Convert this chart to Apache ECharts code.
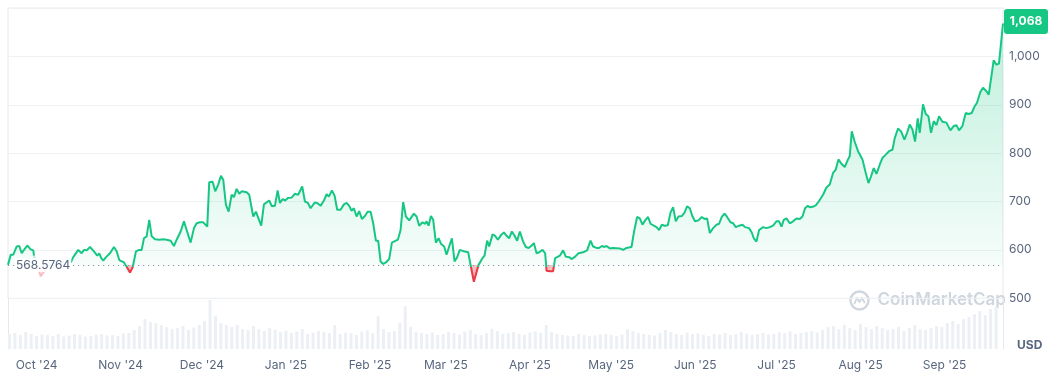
<!DOCTYPE html>
<html><head><meta charset="utf-8">
<script src="https://cdn.jsdelivr.net/npm/echarts@6/dist/echarts.min.js"></script>
<style>html,body{margin:0;padding:0;background:#fff;}#c{width:1056px;height:373px;}</style>
</head><body><div id="c"></div>
<script>
// ---- data ----
const START = Date.UTC(2024, 8, 21);   // first day shown
const DAY = 86400000;
const SPAN_DAYS = 366;
const BASELINE = 568.5764;
const LAST_PRICE = 1068;

// day offsets from START and prices (USD); null = missing data
const priceDays = [0,1.0,1.95,3.2,4.16,5.04,5.88,7.1,8.35,9.3,9.56,16,
23.06,24.01,25.85,27.1,27.95,28.94,30.15,31.62,32.84,33.57,34.31,35.04,36.04,37.51,38.98,39.97,40.93,42.66,43.65,44.86,45.86,47.07,48.28,49.17,50.01,51.0,51.96,52.84,54.06,55.64,57.11,58.36,59.83,61.04,62.04,63.51,64.72,65.71,67.18,68.4,69.39,70.6,71.82,73.29,74.02,75.27,76.23,77.33,78.33,79.17,80.16,81.16,82.26,83.11,84.1,85.06,85.94,87.78,88.73,90.2,91.2,92.19,93.15,94.14,96.09,97.08,98.18,99.18,100.02,101.02,101.97,102.96,104.32,105.54,106.75,107.38,108.22,109.22,110.32,111.31,112.89,113.74,114.99,116.2,117.2,118.04,119.14,120.14,121.09,122.34,123.56,124.55,125.51,126.39,127.23,128.23,129.18,130.18,131.28,132.27,133.38,134.33,135.33,136.17,137.05,138.01,139.0,140.22,141.21,142.31,143.41,144.41,145.36,146.36,147.57,149.3,150.29,151.25,152.5,153.46,153.97,154.71,155.55,156.4,157.39,158.38,159.34,160.44,161.32,162.28,163.27,164.26,165.22,166.21,167.68,169.27,170.15,171.36,173.09,174.56,175.29,176.25,176.99,178.24,179.19,180.19,181.4,182.39,183.39,184.34,185.34,186.33,187.29,188.28,189.49,190.48,191.48,192.43,193.43,194.42,195.38,196.63,197.58,198.1,199.31,200.52,201.26,201.99,202.99,204.2,205.19,206.4,207.4,208.61,209.86,211.55,213.02,214.28,215.23,216.48,217.44,218.43,219.42,220.16,221.37,222.59,225.05,226.26,227.51,229.35,230.2,231.41,232.4,233.4,234.35,235.46,236.34,237.55,238.55,239.5,240.5,241.6,242.7,243.7,244.65,245.64,246.64,247.85,248.84,249.8,250.79,251.78,252.74,253.99,255.2,256.2,257.15,258.15,259.36,260.61,261.57,262.56,263.55,264.51,265.76,266.72,267.71,268.92,270.17,271.13,272.6,273.59,274.33,275.32,276.28,277.75,278.99,280.21,281.42,282.67,283.63,284.51,285.36,286.35,287.56,288.78,290.03,291.24,292.23,293.19,294.18,294.92,296.02,297.13,298.23,299.81,301.06,302.27,303.49,304.48,305.47,306.57,307.79,309.0,309.63,310.37,311.47,312.69,314.3,315.52,316.51,317.46,318.45,319.45,320.66,321.65,322.87,324.08,325.33,326.18,327.39,328.5,329.75,330.71,331.7,332.69,333.65,334.63,335.37,336.58,337.58,338.57,339.53,340.52,341.52,342.47,343.72,345.19,346.66,347.88,348.87,349.82,351.07,352.29,353.28,354.49,355.6,356.44,357.69,358.65,359.9,360.75,361.74,362.57,363.57,364.52,366];
const priceValues = [569,590,590,607,608,593,600,609,601,599,588,null,
574,585,600,593,600,599,606,597,588,593,583,578,585,593,606,597,579,574,565,553,564,597,600,600,624,628,662,628,622,621,622,621,619,608,621,638,659,641,615,645,655,657,657,648,740,741,721,735,753,745,693,679,714,709,726,716,721,719,714,669,679,664,650,694,702,690,691,723,697,705,702,707,708,716,714,712,731,700,697,686,698,697,691,702,715,710,723,712,683,683,694,697,691,681,686,669,680,664,670,679,679,655,619,619,576,571,574,581,615,618,621,641,699,669,661,675,669,650,657,654,659,650,670,662,615,624,612,607,590,607,624,576,585,600,597,595,569,534,569,583,588,619,607,632,629,621,631,636,629,624,638,629,619,638,617,606,604,608,614,593,595,600,593,557,556,556,583,579,588,599,586,585,581,586,593,595,599,619,607,604,604,608,606,608,603,604,603,600,604,606,635,668,665,652,661,668,654,650,647,641,652,650,651,677,688,659,669,670,677,690,686,669,659,661,668,664,665,635,645,652,654,668,675,668,657,655,647,650,652,647,645,636,624,617,641,647,645,647,650,659,659,648,662,665,655,659,665,664,669,686,691,688,689,692,700,714,729,735,759,766,787,778,771,787,794,845,823,804,787,759,738,752,769,757,776,790,797,804,807,831,851,845,828,842,859,849,824,872,842,901,881,876,842,866,858,876,865,863,847,856,858,847,856,883,881,883,897,904,927,935,928,921,959,992,983,985,1068];

// faded segment where data is missing
const gapDays = [9.56,12.0,14.2,17.9,19.75,22.2,23.06];
const gapValues = [588,545,562,581,572,576,574];

// trading volume (millions USD), one bar every 2 days from START
const volumeValues = [150,160,140,170,150,130,145,140,130,150,
125,135,150,140,125,130,145,150,135,140,
130,155,160,190,230,300,270,260,240,220,
200,210,230,190,215,240,280,490,330,260,
240,220,240,200,190,230,200,180,210,195,
170,185,160,175,200,150,165,180,170,160,
240,150,165,160,140,175,190,160,330,200,
170,180,260,430,220,170,160,150,165,140,
150,170,160,145,175,190,150,140,160,200,
180,150,160,170,150,140,165,175,160,240,
170,150,140,135,130,150,140,130,135,145,
150,140,130,145,200,180,160,150,140,135,
160,190,170,150,140,165,150,155,140,130,
150,145,160,140,150,170,155,140,150,160,
145,150,170,160,175,150,160,170,180,165,
190,220,230,200,240,210,190,250,220,200,
230,210,190,200,220,180,210,240,200,190,
210,230,220,260,280,250,300,320,350,380,
340,400,420];
const VOLUME_STEP_DAYS = 2;

const MONTHS = ['Jan','Feb','Mar','Apr','May','Jun','Jul','Aug','Sep','Oct','Nov','Dec'];

// ---- build ----
const t = d => START + d * DAY;
const priceData = priceDays.map((d, i) => [t(d), priceValues[i]]);
const gapData = gapDays.map((d, i) => [t(d), gapValues[i]]);
const volumeData = volumeValues.map((v, i) => [t(i * VOLUME_STEP_DAYS), v]);

const GREEN = '#16c784', RED = '#ea3943';
function splitFrac(vals) {
  const v = vals.filter(x => x != null);
  const mx = Math.max(...v), mn = Math.min(...v);
  return Math.min(1, Math.max(0, (mx - BASELINE) / (mx - mn)));
}
const fMain = splitFrac(priceValues);
const fGap = splitFrac(gapValues);
function strokeGrad(f) {
  return new echarts.graphic.LinearGradient(0, 0, 0, 1, [
    {offset: 0, color: GREEN}, {offset: f, color: GREEN},
    {offset: f, color: RED}, {offset: 1, color: RED}]);
}
function areaGrad(f, a) {
  return new echarts.graphic.LinearGradient(0, 0, 0, 1, [
    {offset: 0, color: 'rgba(22,199,132,' + (0.28 * a) + ')'},
    {offset: f, color: 'rgba(22,199,132,' + (0.04 * a) + ')'},
    {offset: f, color: 'rgba(234,57,67,' + (0.3 * a) + ')'},
    {offset: 1, color: 'rgba(234,57,67,' + (0.45 * a) + ')'}]);
}

const xMin = START, xMax = t(SPAN_DAYS);
const FONT = 'Inter, "Noto Sans", sans-serif';
const WM = '#d0d6de';

const chart = echarts.init(document.getElementById('c'), null, {renderer: 'canvas'});
chart.setOption({
  animation: false,
  useUTC: true,
  backgroundColor: '#fff',
  textStyle: {fontFamily: FONT},
  grid: [
    {left: 8, right: 53, top: 8, bottom: 74.75, show: true, borderColor: '#e6e8ec', borderWidth: 1},
    {left: 8, right: 53, top: 298.25, bottom: 24}
  ],
  xAxis: [
    {type: 'time', gridIndex: 0, min: xMin, max: xMax, show: false,
     minInterval: 28 * DAY, maxInterval: 31 * DAY},
    {type: 'time', gridIndex: 1, min: xMin, max: xMax,
     minInterval: 28 * DAY, maxInterval: 31 * DAY,
     axisLine: {show: false}, axisTick: {show: false}, splitLine: {show: false},
     axisLabel: {color: '#58667e', fontSize: 12, margin: 10, hideOverlap: false,
       formatter: v => { const d = new Date(v); return MONTHS[d.getUTCMonth()] + " '" + String(d.getUTCFullYear()).slice(2); }}}
  ],
  yAxis: [
    {type: 'value', gridIndex: 0, position: 'right', min: 500, max: 1100, interval: 100,
     axisLine: {show: false}, axisTick: {show: false},
     splitLine: {lineStyle: {color: '#eff2f5', width: 1}},
     axisLabel: {color: '#58667e', fontSize: 12, margin: 6,
       formatter: v => v >= 1100 ? '' : v.toLocaleString('en-US')}},
    {type: 'value', gridIndex: 1, position: 'left', min: 0, max: 510,
     axisLine: {show: true, lineStyle: {color: '#e6e8ec'}}, axisTick: {show: false},
     axisLabel: {show: false}, splitLine: {show: false}},
    {type: 'value', gridIndex: 1, position: 'right', min: 0, max: 510,
     axisLine: {show: true, lineStyle: {color: '#e6e8ec'}}, axisTick: {show: false},
     axisLabel: {show: false}, splitLine: {show: false}}
  ],
  series: [
    {type: 'bar', xAxisIndex: 1, yAxisIndex: 1, data: volumeData, barWidth: 3,
     itemStyle: {color: '#eceff3'}, silent: true},
    {type: 'line', xAxisIndex: 0, yAxisIndex: 0, data: gapData, showSymbol: false, z: 1,
     lineStyle: {width: 2, opacity: 0.28, color: strokeGrad(fGap)},
     areaStyle: {origin: BASELINE, opacity: 1, color: areaGrad(fGap, 0.3)}, silent: true},
    {type: 'line', xAxisIndex: 0, yAxisIndex: 0, data: priceData, showSymbol: false,
     connectNulls: false, clip: false, z: 3,
     lineStyle: {width: 2, color: strokeGrad(fMain)},
     areaStyle: {origin: BASELINE, opacity: 1, color: areaGrad(fMain, 1)},
     markLine: {silent: true, symbol: 'none',
       lineStyle: {color: '#8a94a6', type: [1.2, 3.8], width: 1.2},
       label: {position: 'insideStart', distance: 7, formatter: String(BASELINE),
         color: '#58667e', fontSize: 12, backgroundColor: 'rgba(255,255,255,0.9)', padding: [1, 1]},
       data: [{yAxis: BASELINE}]},
     markPoint: {silent: true,
       symbol: 'path://M3,0H40A3,3 0 0 1 43,3V22A3,3 0 0 1 40,25H3A3,3 0 0 1 0,22V3A3,3 0 0 1 3,0Z',
       symbolSize: [44, 25], symbolOffset: [23, -2],
       itemStyle: {color: GREEN},
       label: {show: true, formatter: LAST_PRICE.toLocaleString('en-US'), color: '#fff',
         fontWeight: 'bold', fontSize: 12},
       data: [{coord: [xMax, LAST_PRICE]}]}
    }
  ],
  graphic: [
    {type: 'text', left: 1017, top: 339, style: {text: 'USD', fill: '#58667e', font: 'bold 12px ' + FONT}},
    {type: 'group', left: 848, top: 289, silent: true, children: [
      {type: 'circle', shape: {cx: 10, cy: 10, r: 9}, style: {fill: 'none', stroke: WM, lineWidth: 2.4}},
      {type: 'polyline', shape: {points: [[5, 13], [7.5, 7.5], [10, 11.5], [12.5, 7.5], [15, 12]]},
       style: {fill: 'none', stroke: WM, lineWidth: 1.8, lineJoin: 'round', lineCap: 'round'}},
      {type: 'text', x: 28, y: 1, style: {text: 'CoinMarketCap', fill: WM, font: '600 17px ' + FONT}}
    ]}
  ]
});
</script></body></html>
